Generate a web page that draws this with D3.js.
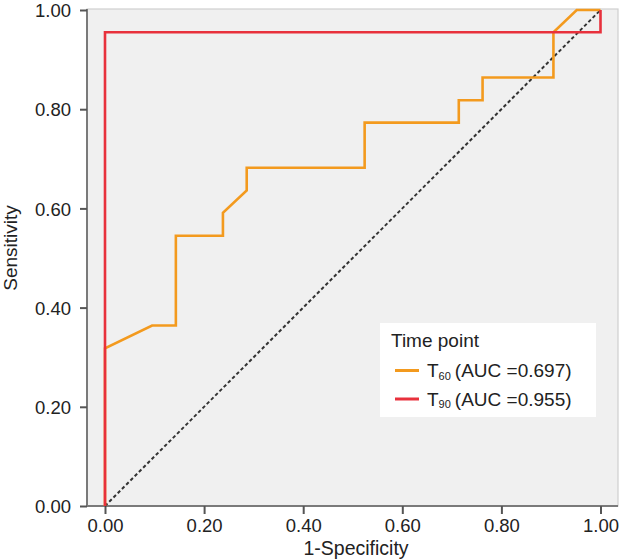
<!DOCTYPE html>
<html>
<head>
<meta charset="utf-8">
<script src="https://cdn.jsdelivr.net/npm/d3@7"></script>
<style>
  body { margin: 0; background: #fff; }
  text { font-family: "Liberation Sans", Arial, sans-serif; fill: #222; }
</style>
</head>
<body>
<div id="chart"></div>
<script>
// ROC curves, 1-specificity vs sensitivity
const t60Fpr = [0, 0, 0.095, 0.143, 0.143, 0.238, 0.238, 0.286, 0.286, 0.524, 0.524, 0.714, 0.714, 0.762, 0.762, 0.905, 0.905, 0.952, 1]
const t60Tpr = [0, 0.318, 0.364, 0.364, 0.545, 0.545, 0.591, 0.636, 0.682, 0.682, 0.773, 0.773, 0.818, 0.818, 0.864, 0.864, 0.955, 1, 1]
const t90Fpr = [0, 0, 1, 1]
const t90Tpr = [0, 0.955, 0.955, 1]
const refLine = [[0, 0], [1, 1]]

const ticks = [0, 0.2, 0.4, 0.6, 0.8, 1]
const series = [
  { label: 'T', sub: '60', auc: '(AUC =0.697)', color: '#f39a1e', fpr: t60Fpr, tpr: t60Tpr },
  { label: 'T', sub: '90', auc: '(AUC =0.955)', color: '#e8313c', fpr: t90Fpr, tpr: t90Tpr },
]
const legendTitle = 'Time point'

const W = 628, H = 560
const svg = d3.select('#chart').append('svg').attr('width', W).attr('height', H)

// scales, frame is a bit wider than the data range on x
const x = d3.scaleLinear().domain([0, 1]).range([105, 600.5])
const y = d3.scaleLinear().domain([0, 1]).range([506, 10])
const frameL = 87, frameR = 618, frameT = 9, frameB = 506

svg.append('rect')
  .attr('x', frameL).attr('y', frameT)
  .attr('width', frameR - frameL).attr('height', frameB - frameT)
  .attr('fill', '#f0f0f0')
  .attr('stroke', '#cfcfcf').attr('stroke-width', 1.2)

// axes
const yAxis = svg.append('g')
  .attr('transform', `translate(${frameL},0)`)
  .call(d3.axisLeft(y).tickValues(ticks).tickFormat(d3.format('.2f')).tickSize(7).tickSizeOuter(0))
yAxis.select('.domain').attr('d', `M0,${frameT}V${frameB}`)

const xAxis = svg.append('g')
  .attr('transform', `translate(0,${frameB})`)
  .call(d3.axisBottom(x).tickValues(ticks).tickFormat(d3.format('.2f')).tickSize(8).tickSizeOuter(0))
xAxis.select('.domain').attr('d', `M${frameL},0H${frameR}`)

svg.selectAll('.domain').attr('stroke', '#7a7a7a').attr('stroke-width', 2)
svg.selectAll('.tick line').attr('stroke', '#555').attr('stroke-width', 2)
svg.selectAll('.tick text').style('font-size', '18.5px').attr('fill', '#222')
yAxis.selectAll('.tick text').attr('x', -16).attr('dy', '0.36em')
xAxis.selectAll('.tick text').attr('y', 12.5)

// titles
svg.append('text')
  .attr('x', 356).attr('y', 555)
  .attr('text-anchor', 'middle')
  .style('font-size', '19.5px')
  .text('1-Specificity')
svg.append('text')
  .attr('transform', 'translate(17,248) rotate(-90)')
  .attr('text-anchor', 'middle')
  .style('font-size', '19px')
  .text('Sensitivity')

// diagonal reference
const line = d3.line().x(d => x(d[0])).y(d => y(d[1]))
svg.append('path')
  .datum(refLine)
  .attr('d', line)
  .attr('fill', 'none')
  .attr('stroke', '#333')
  .attr('stroke-width', 2)
  .attr('stroke-dasharray', '3.5,2.5')

// curves
series.forEach(s => {
  const pts = s.fpr.map((f, i) => [f, s.tpr[i]])
  svg.append('path')
    .datum(pts)
    .attr('d', line)
    .attr('fill', 'none')
    .attr('stroke', s.color)
    .attr('stroke-width', 2.6)
    .attr('stroke-linejoin', 'miter')
})

// legend
const lg = svg.append('g').attr('transform', 'translate(380,323)')
lg.append('rect').attr('width', 216).attr('height', 94).attr('fill', '#fff')
lg.append('text').attr('x', 11).attr('y', 24).style('font-size', '19px').text(legendTitle)
series.forEach((s, i) => {
  const yy = 47.5 + i * 28.5
  lg.append('line')
    .attr('x1', 15).attr('x2', 39).attr('y1', yy).attr('y2', yy)
    .attr('stroke', s.color).attr('stroke-width', 3)
  const t = lg.append('text').attr('x', 47).attr('y', yy + 6.5).style('font-size', '19px')
  t.append('tspan').text(s.label)
  t.append('tspan').attr('dy', 2.5).style('font-size', '11px').text(s.sub)
  t.append('tspan').attr('dy', -2.5).attr('dx', 4).text(s.auc)
})
</script>
</body>
</html>
